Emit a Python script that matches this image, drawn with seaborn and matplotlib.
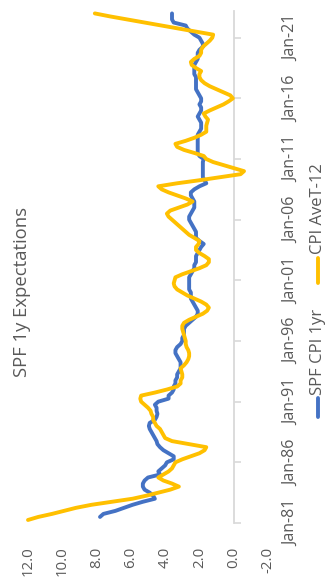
import numpy as np
import pandas as pd
import matplotlib
matplotlib.use("Agg")
import matplotlib.pyplot as plt
import seaborn as sns
from matplotlib.lines import Line2D

# ---- data -----------------------------------------------------------------
title = "SPF 1y Expectations"
series_names = ["SPF CPI 1yr", "CPI AveT-12"]

# SPF one-year-ahead CPI expectations, quarterly from Jul-1981
spf_start = 1981.5
spf_values = [
    7.8, 7.6,
    6.9, 6.4, 5.9, 5.3,
    4.6, 4.7, 4.9, 5.2,
    5.3, 5.3, 5.2, 5.0,
    4.3, 4.4, 4.2, 4.0,
    3.9, 3.5, 3.5, 3.8,
    4.1, 4.3, 4.45, 4.5,
    4.6, 4.7, 4.8, 4.9,
    4.95, 4.9, 4.6, 4.5,
    4.45, 4.5, 4.5, 4.6,
    4.4, 3.8, 3.8, 3.6,
    3.5, 3.5, 3.4, 3.4,
    3.3, 3.3, 3.2, 3.1,
    3.1, 3.1, 3.2, 3.3,
    3.4, 3.4, 3.3, 3.1,
    3.0, 3.0, 2.9, 2.9,
    2.9, 2.8, 2.6, 2.4,
    2.2, 2.1, 2.1, 2.2,
    2.3, 2.4, 2.5, 2.5,
    2.5, 2.6, 2.6, 2.6,
    2.6, 2.6, 2.5, 2.4,
    2.3, 2.3, 2.2, 2.2,
    2.2, 2.1, 2.0, 1.9,
    1.75, 2.0, 2.2, 2.2,
    2.2, 2.3, 2.4, 2.5,
    2.6, 2.6, 2.5, 2.4,
    2.3, 2.3, 2.3, 2.4,
    2.5, 2.5, 2.3, 2.0,
    1.6, 1.7, 1.8, 1.8,
    1.8, 1.8, 1.8, 1.8,
    1.75, 2.0, 2.1, 2.1,
    2.1, 2.1, 2.1, 2.1,
    2.1, 2.0, 1.9, 1.9,
    1.9, 2.0, 2.1, 2.0,
    1.9, 1.9, 2.0, 1.9,
    1.9, 2.0, 2.1, 2.2,
    2.2, 2.2, 2.2, 2.2,
    2.3, 2.3, 2.3, 2.3,
    2.2, 2.1, 2.1, 2.1,
    2.0, 1.8, 1.8, 1.9,
    2.0, 2.3, 2.5, 2.7,
    2.8, 3.5, 3.6, 3.6,
    3.6,
]

# Trailing 12-month average CPI inflation, quarterly from Apr-1981
cpi_start = 1981.25
cpi_values = [
    12.0, 11.4, 10.6,
    9.9, 9.2, 8.3, 7.1,
    5.9, 5.1, 4.4, 3.7,
    3.2, 3.6, 4.1, 4.4,
    4.1, 3.8, 3.6, 3.5,
    3.4, 3.0, 2.5, 2.0,
    1.7, 1.6, 2.6, 3.6,
    4.0, 4.1, 4.2, 4.3,
    4.5, 4.6, 4.7, 4.7,
    4.8, 4.85, 5.0, 5.2,
    5.4, 5.45, 5.4, 4.6,
    3.9, 3.3, 3.1, 3.1,
    3.0, 3.0, 3.05, 3.1,
    2.9, 2.75, 2.65, 2.6,
    2.6, 2.65, 2.75, 2.8,
    2.8, 2.85, 2.9, 2.95,
    3.0, 3.0, 2.9, 2.6,
    2.2, 1.8, 1.55, 1.45,
    1.6, 1.9, 2.3, 2.7,
    3.0, 3.3, 3.45, 3.5,
    3.45, 3.4, 3.0, 2.5,
    2.0, 1.6, 1.45, 1.45,
    1.7, 2.0, 2.2, 2.2,
    2.05, 2.0, 2.3, 2.6,
    2.8, 3.0, 3.2, 3.4,
    3.6, 3.8, 3.9, 3.7,
    3.2, 2.7, 2.4, 2.8,
    3.3, 3.8, 4.2, 4.4,
    3.3, 2.0, 0.8, -0.4,
    -0.6, 0.0, 0.6, 1.2,
    1.6, 1.75, 2.3, 2.9,
    3.3, 3.4, 2.8, 2.3,
    1.9, 1.6, 1.6, 1.6,
    1.55, 1.5, 1.65, 1.75,
    1.4, 1.0, 0.6, 0.3,
    0.05, 0.2, 0.6, 1.0,
    1.4, 1.7, 1.9, 2.0,
    2.0, 1.9, 2.2, 2.45,
    2.5, 2.3, 2.0, 1.9,
    1.9, 1.8, 1.6, 1.4,
    1.25, 1.2, 2.2, 3.2,
    4.2, 5.2, 6.2, 7.2,
    8.1,
]

date_ticks = [1981, 1986, 1991, 1996, 2001, 2006, 2011, 2016, 2021]
date_labels = ["Jan-81", "Jan-86", "Jan-91", "Jan-96", "Jan-01",
               "Jan-06", "Jan-11", "Jan-16", "Jan-21"]
value_ticks = [12, 10, 8, 6, 4, 2, 0, -2]
value_labels = ["12.0", "10.0", "8.0", "6.0", "4.0", "2.0", "0.0", "-2.0"]

BLUE = "#4472C4"
GOLD = "#FFC000"
TEXT = "#595959"
AXIS = "#D9D9D9"


def quarterly(start, values):
    dates = start + 0.25 * np.arange(len(values))
    return pd.DataFrame({"date": dates, "value": values})


spf = quarterly(spf_start, spf_values)
cpi = quarterly(cpi_start, cpi_values)

# ---- figure ---------------------------------------------------------------
sns.set_theme(style="white")
plt.rcParams["font.family"] = ["Open Sans", "DejaVu Sans"]

W, H = 330, 583
fig = plt.figure(figsize=(W / 100, H / 100), dpi=100)
fig.patch.set_facecolor("white")

left, right, top, bottom = 28, 268, 11, 523
ax = fig.add_axes([left / W, 1 - bottom / H, (right - left) / W, (bottom - top) / H])
ax.set_facecolor("white")

for df, color, name in [(spf, BLUE, series_names[0]), (cpi, GOLD, series_names[1])]:
    sns.lineplot(data=df, x="value", y="date", orient="y", sort=False,
                 estimator=None, color=color, lw=2.8, ax=ax, label=name,
                 legend=False, clip_on=False)

ax.set_xlim(12, -2)
ax.set_ylim(1981, 2023.2)

for side in ["top", "right", "bottom"]:
    ax.spines[side].set_visible(False)
ax.spines["left"].set_position(("data", 0))
ax.spines["left"].set_color(AXIS)
ax.spines["left"].set_linewidth(1.3)
ax.spines["left"].set_zorder(0.5)

ax.set_yticks(date_ticks, date_labels)
ax.tick_params(axis="y", left=True, right=False, labelleft=False,
               labelright=True, direction="in", length=5, width=1.2,
               color=AXIS, labelcolor=TEXT, labelsize=11.5, pad=11)
for lbl in ax.get_yticklabels():
    lbl.set_rotation(90)
    lbl.set_va("center")
    lbl.set_ha("left")

ax.set_xticks(value_ticks, value_labels)
ax.tick_params(axis="x", bottom=False, labelbottom=True, labelcolor=TEXT,
               labelsize=10.8, pad=11)
for lbl in ax.get_xticklabels():
    lbl.set_rotation(90)
    lbl.set_ha("center")
    lbl.set_va("top")

ax.set_xlabel("")
ax.set_ylabel("")
ax.grid(False)

fig.text(22 / W, 0.5, title, rotation=90, ha="center", va="center",
         fontsize=13.3, color=TEXT)

# legend, running bottom-to-top along the right edge
lx = 318 / W
for (y0, y1, ty), color, name in [((417, 398, 395), BLUE, series_names[0]),
                                   ((283, 258, 254), GOLD, series_names[1])]:
    fig.add_artist(Line2D([lx, lx], [1 - y0 / H, 1 - y1 / H], color=color,
                          lw=2.8, transform=fig.transFigure))
    fig.text(lx, 1 - ty / H, name, rotation=90, ha="center", va="bottom",
             fontsize=12, color=TEXT)

fig.savefig("out.png", dpi=100, facecolor="white")
